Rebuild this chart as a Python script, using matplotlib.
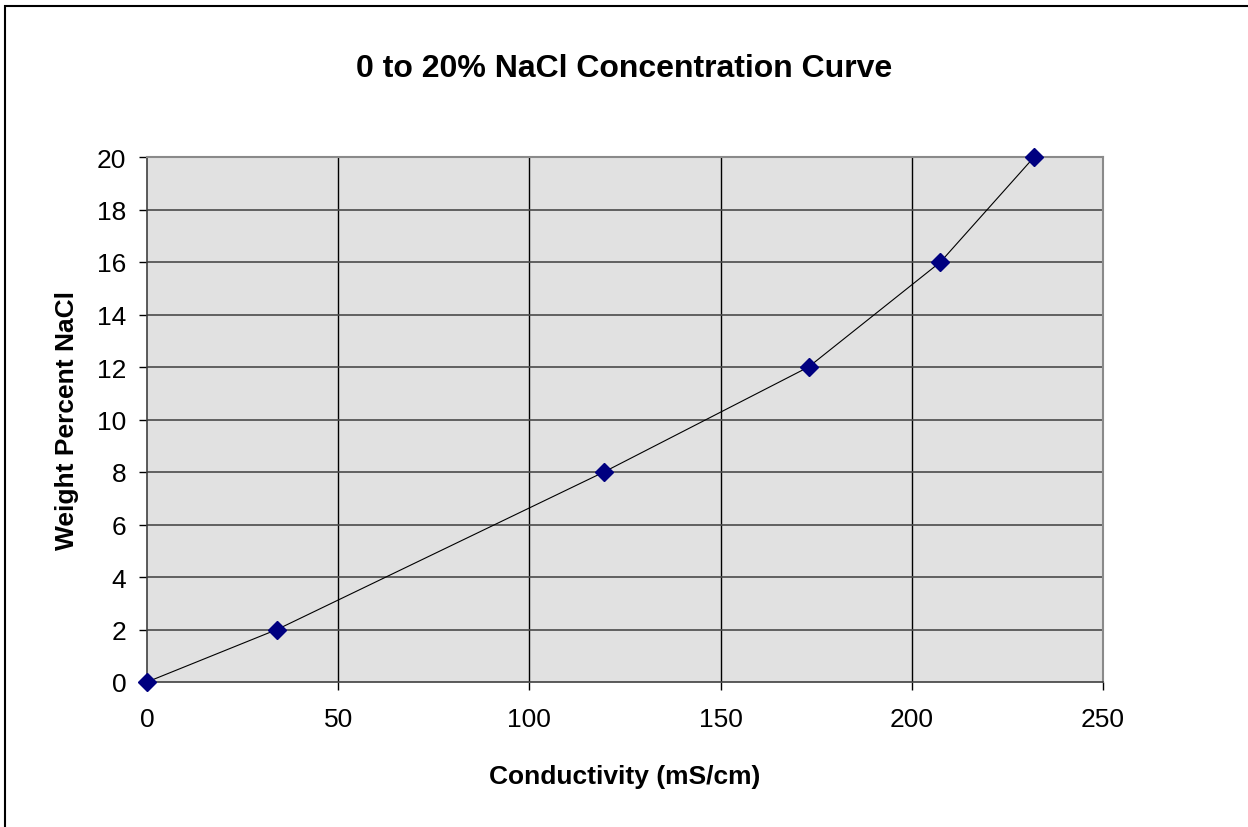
import matplotlib.pyplot as plt
from matplotlib.patches import Rectangle

plt.rcParams["font.family"] = ["Liberation Sans", "DejaVu Sans"]

# data
conductivity = [0, 34, 119.5, 173, 207.5, 232]
weight_pct = [0, 2, 8, 12, 16, 20]

x_ticks = [0, 50, 100, 150, 200, 250]
y_ticks = [0, 2, 4, 6, 8, 10, 12, 14, 16, 18, 20]

fig = plt.figure(figsize=(12.48, 8.28), dpi=100)
ax = fig.add_axes([147 / 1248, 1 - 683 / 828, (1103 - 147) / 1248, (683 - 158) / 828])
ax.set_facecolor("#e1e1e1")

ax.plot(conductivity, weight_pct, color="black", lw=0.8, zorder=3,
        marker="D", markersize=9, markerfacecolor="#000080",
        markeredgecolor="#000080", clip_on=False)

ax.set_xlim(0, 250)
ax.set_ylim(0, 20)
ax.set_xticks(x_ticks)
ax.set_yticks(y_ticks)
ax.tick_params(labelsize=19, length=6, width=1, color="black")
ax.tick_params(axis="x", pad=12)
ax.tick_params(axis="y", pad=9)

for v in x_ticks[1:-1]:
    ax.axvline(v, color="black", lw=1, zorder=1)
for v in y_ticks[1:-1]:
    ax.axhline(v, color="#4a4a4a", lw=1.2, zorder=1)

for side in ["top", "right"]:
    ax.spines[side].set_color("#8a8a8a")
    ax.spines[side].set_linewidth(1.5)
for side in ["left", "bottom"]:
    ax.spines[side].set_color("#404040")
    ax.spines[side].set_linewidth(1.2)

ax.set_xlabel("Conductivity (mS/cm)", fontsize=19, fontweight="bold", labelpad=24)
ax.set_ylabel("Weight Percent NaCl", fontsize=19, fontweight="bold", labelpad=13)
fig.text(0.5, 1 - 69 / 828, "0 to 20% NaCl Concentration Curve",
         fontsize=23, fontweight="bold", ha="center", va="center")

# outer chart frame
fig.patches.append(Rectangle((5 / 1248, -0.01), 1.1, 1 - 7 / 828 + 0.01,
                             transform=fig.transFigure, fill=False,
                             edgecolor="black", lw=1.5))

fig.savefig("out.png", dpi=100)
